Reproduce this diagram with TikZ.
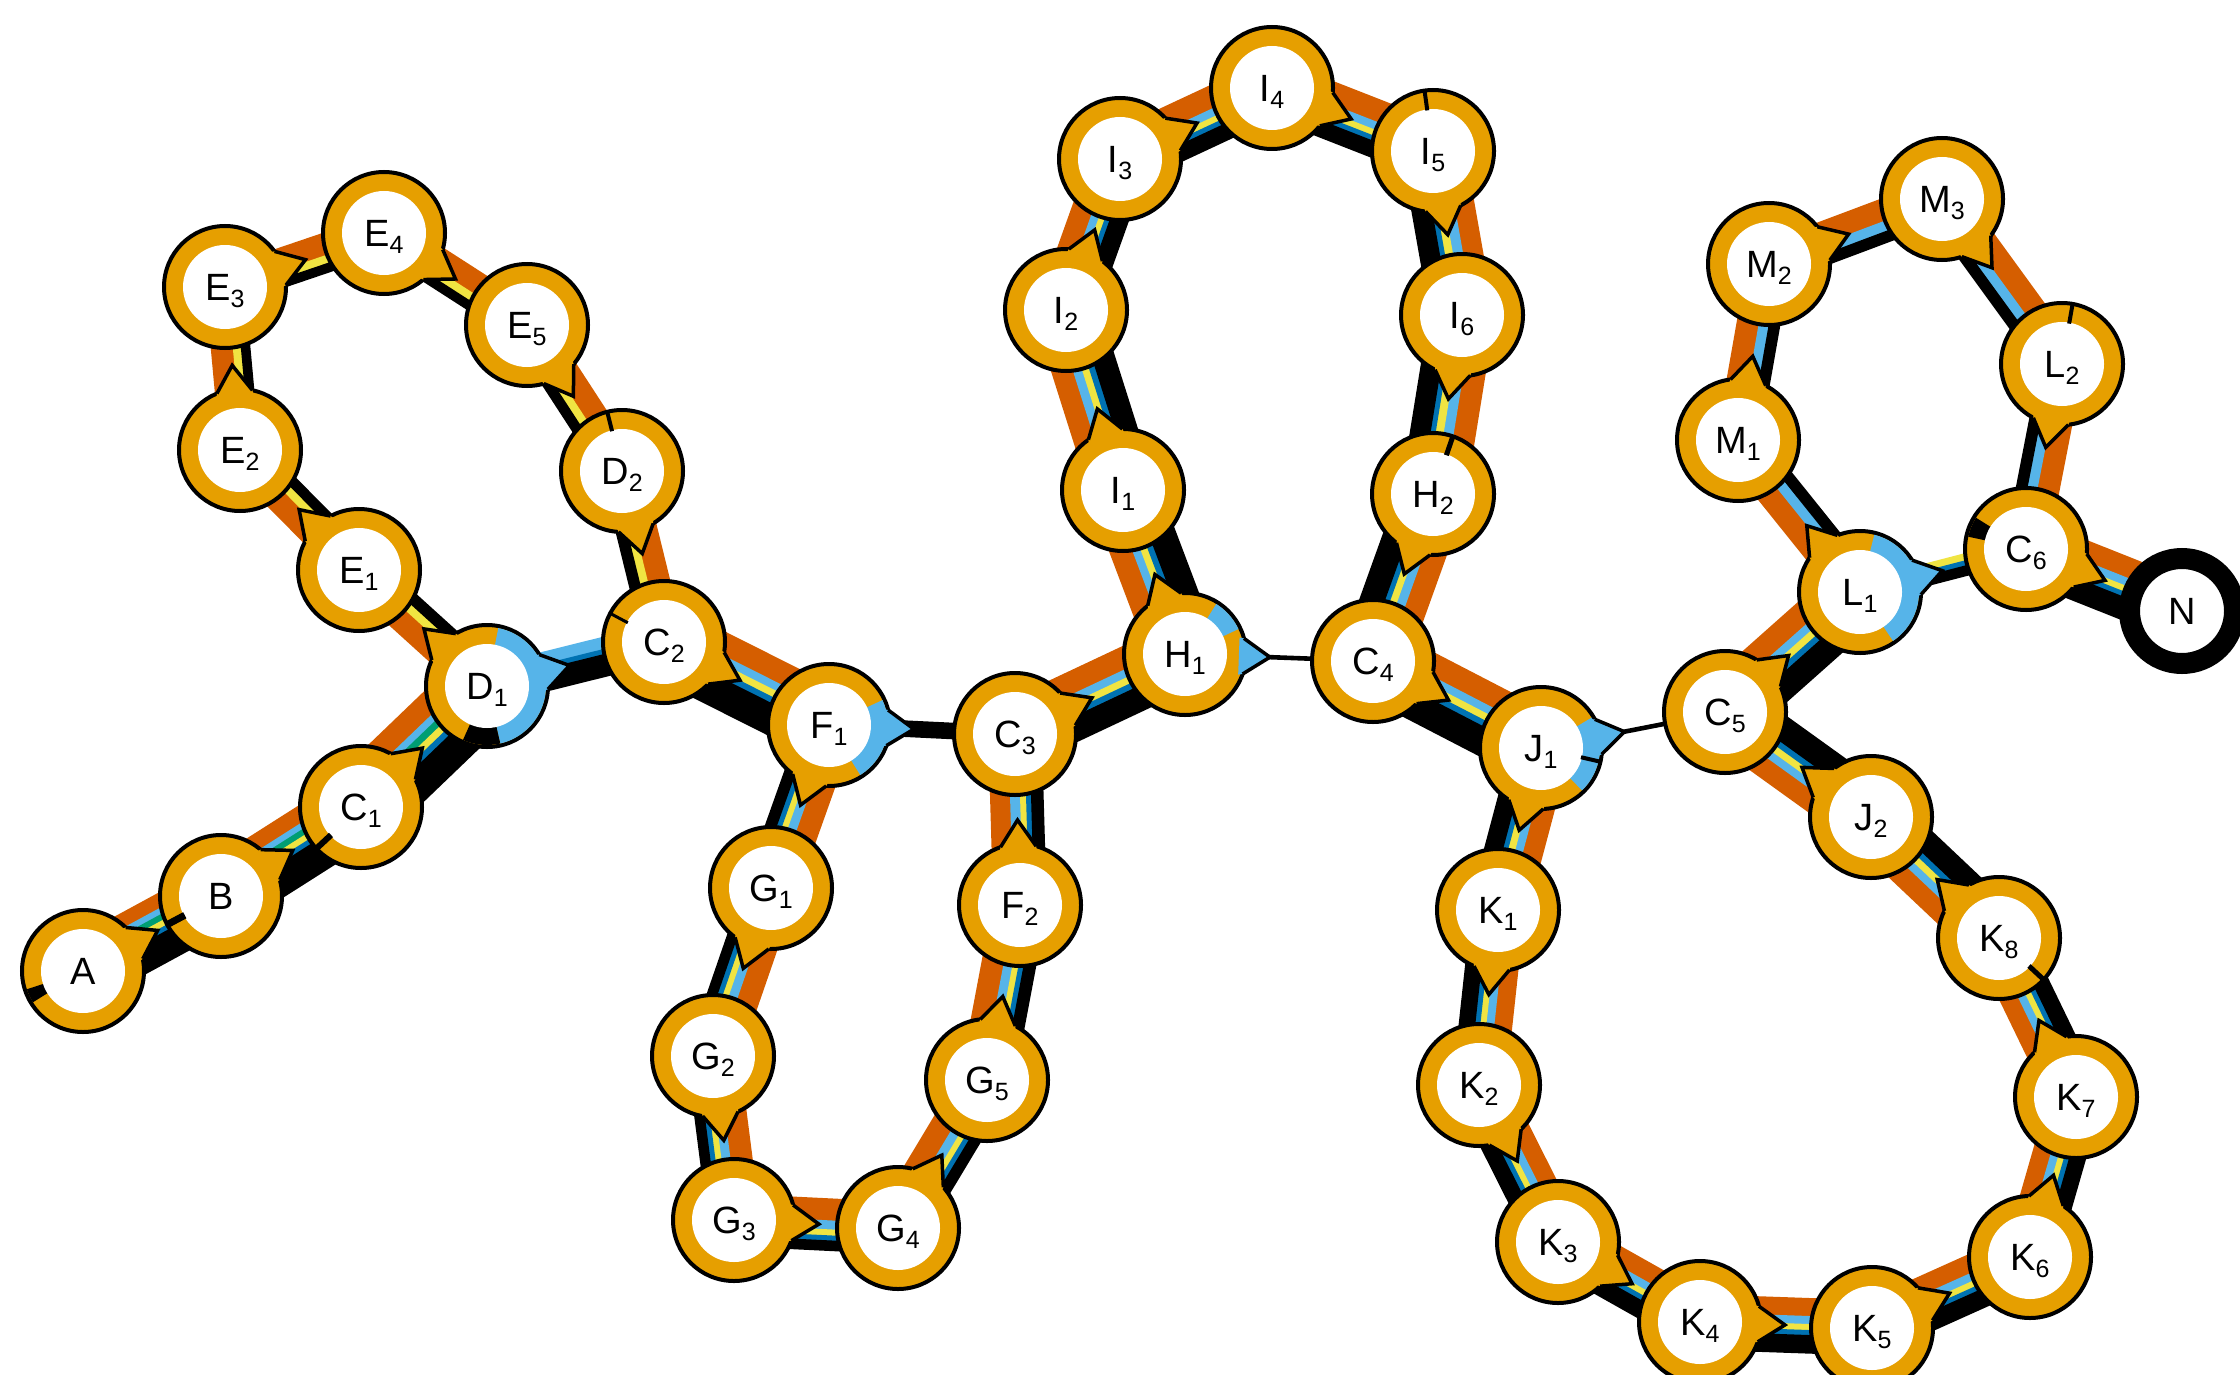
\documentclass[tikz,border=0pt]{standalone}
\usepackage{fontspec}
\setmainfont{Liberation Sans}
\usetikzlibrary{calc}
\definecolor{ringor}{HTML}{E69F00}
\definecolor{verm}{HTML}{D55E00}
\definecolor{skyb}{HTML}{56B4E9}
\definecolor{yel}{HTML}{F0E442}
\definecolor{dblu}{HTML}{0072B2}
\definecolor{grn}{HTML}{009E73}
\newcommand\labfont{\fontsize{38}{42}\selectfont}
\newcommand\lsub[1]{\raisebox{-7pt}{\fontsize{25}{25}\selectfont #1}}
% bundle of parallel lines, listed from the left side of the travel direction a->b
\newcommand\bundle[3]{%
  \xdef\bndtot{0}%
  \foreach \cc/\ww in {#3}{\pgfmathparse{\bndtot+\ww}\xdef\bndtot{\pgfmathresult}}%
  \xdef\bndacc{0}%
  \foreach \cc/\ww in {#3}{%
    \pgfmathparse{\bndtot/2-\bndacc-\ww/2}\let\bndoff\pgfmathresult
    \draw[line width=\ww pt+0.6pt, draw=\cc] ($(#1)!\bndoff pt!90:(#2)$) -- ($(#2)!\bndoff pt!-90:(#1)$);%
    \pgfmathparse{\bndacc+\ww}\xdef\bndacc{\pgfmathresult}%
  }%
}
\newcommand\stnring[1]{\fill[ringor, draw=black, line width=4pt] (#1) circle[radius=61pt];}
\newcommand\stnsect[4][skyb]{\fill[#1] (#2) -- ++(#3:59pt) arc[start angle=#3, end angle=#4, radius=59pt] -- cycle;}
\newcommand\stnhole[1]{\fill[white] (#1) circle[radius=42pt];}
\newcommand\stntick[3][4pt]{\draw[line width=#1, line cap=butt] ($(#2)+(#3:41pt)$) -- ($(#2)+(#3:61pt)$);}
\newcommand\stnlab[2]{\node[font=\labfont, anchor=base, inner sep=0pt] at ($(#1)+(0pt,-13.5pt)$) {#2};}
\newcommand\stnptr[3][ringor]{%
  \path let \p1=($(#3)-(#2)$), \n1={atan2(\y1,\x1)} in \pgfextra{\xdef\ptrang{\n1}};%
  \fill[#1] ($(#2)+(\ptrang+17:61pt)$) -- ($(#2)+(\ptrang:85pt)$) -- ($(#2)+(\ptrang-17:61pt)$) -- ($(#2)+(\ptrang-19:57pt)$) -- ($(#2)+(\ptrang+19:57pt)$) -- cycle;%
  \draw[line width=3.5pt, line join=miter] ($(#2)+(\ptrang+17:61pt)$) -- ($(#2)+(\ptrang:85pt)$) -- ($(#2)+(\ptrang-17:61pt)$);%
}
\newcommand\stn[3]{\stnring{#1}\stnptr{#1}{#2}\stnhole{#1}\stnlab{#1}{#3}}
\begin{document}
\begin{tikzpicture}[x=1pt,y=-1pt]
\useasboundingbox (0,0) rectangle (2240,1375);
\fill[white] (0,0) rectangle (2240,1375);
\clip (0,0) rectangle (2240,1375);
% coordinates (image pixels, y downward)
\coordinate (A) at (83,971);
\coordinate (B) at (221,896);
\coordinate (C1) at (361,807);
\coordinate (D1) at (487,686);
\coordinate (E1) at (359,570);
\coordinate (E2) at (240,450);
\coordinate (E3) at (225,287);
\coordinate (E4) at (384,233);
\coordinate (E5) at (527,325);
\coordinate (D2) at (622,471);
\coordinate (C2) at (664,642);
\coordinate (F1) at (829,725);
\coordinate (C3) at (1015,734);
\coordinate (G1) at (771,888);
\coordinate (G2) at (713,1056);
\coordinate (G3) at (734,1220);
\coordinate (G4) at (898,1228);
\coordinate (G5) at (987,1080);
\coordinate (F2) at (1020,905);
\coordinate (H1) at (1185,654);
\coordinate (I1) at (1123,490);
\coordinate (I2) at (1066,310);
\coordinate (I3) at (1120,159);
\coordinate (I4) at (1272,88);
\coordinate (I5) at (1433,151);
\coordinate (I6) at (1462,315);
\coordinate (H2) at (1433,494);
\coordinate (C4) at (1373,661);
\coordinate (J1) at (1541,748);
\coordinate (C5) at (1725,712);
\coordinate (K1) at (1498,910);
\coordinate (K2) at (1479,1085);
\coordinate (K3) at (1558,1242);
\coordinate (K4) at (1700,1322);
\coordinate (K5) at (1872,1328);
\coordinate (K6) at (2030,1257);
\coordinate (K7) at (2076,1097);
\coordinate (K8) at (1999,938);
\coordinate (J2) at (1871,817);
\coordinate (L1) at (1860,592);
\coordinate (C6) at (2026,549);
\coordinate (N) at (2182,611);
\coordinate (M1) at (1738,440);
\coordinate (M2) at (1769,264);
\coordinate (M3) at (1942,199);
\coordinate (L2) at (2062,364);
% line bundles
\bundle{A}{B}{verm/14,skyb/6,grn/6,yel/6,dblu/5,black/28}
\bundle{B}{C1}{verm/16,skyb/6,grn/6,yel/6,dblu/5,black/30}
\bundle{C1}{D1}{verm/22,skyb/7,grn/7,yel/7,dblu/6,black/30}
\bundle{D1}{E1}{verm/22,yel/8,black/11}
\bundle{E1}{E2}{verm/22,yel/8,black/10}
\bundle{E2}{E3}{verm/22,yel/8,black/9}
\bundle{E3}{E4}{verm/22,yel/8,black/9}
\bundle{E4}{E5}{verm/22,yel/8,black/9}
\bundle{E5}{D2}{verm/22,yel/8,black/10}
\bundle{D2}{C2}{verm/22,yel/8,black/11}
\bundle{D1}{C2}{skyb/12,dblu/5,black/22}
\bundle{C2}{F1}{verm/22,skyb/8,yel/7,dblu/6,black/30}
\bundle{F1}{C3}{black/16}
\bundle{F1}{G1}{verm/22,skyb/9,yel/6,dblu/5,black/11}
\bundle{G1}{G2}{verm/22,skyb/9,yel/6,dblu/5,black/10}
\bundle{G2}{G3}{verm/22,skyb/9,yel/6,dblu/5,black/10}
\bundle{G3}{G4}{verm/22,skyb/9,yel/6,dblu/5,black/10}
\bundle{G4}{G5}{verm/22,skyb/9,yel/6,dblu/5,black/11}
\bundle{G5}{F2}{verm/22,skyb/9,yel/6,dblu/5,black/12}
\bundle{F2}{C3}{verm/20,skyb/10,yel/6,dblu/5,black/12}
\bundle{C3}{H1}{verm/22,skyb/8,yel/7,dblu/6,black/24}
\bundle{H1}{I1}{verm/22,skyb/8,yel/7,dblu/6,black/26}
\bundle{I1}{I2}{verm/21,skyb/9,yel/7,dblu/6,black/22}
\bundle{I2}{I3}{verm/21,skyb/8,yel/6,dblu/5,black/18}
\bundle{I3}{I4}{verm/22,skyb/8,yel/6,dblu/5,black/16}
\bundle{I4}{I5}{verm/22,skyb/8,yel/6,dblu/5,black/16}
\bundle{I5}{I6}{verm/20,skyb/10,yel/8,dblu/5,black/20}
\bundle{I6}{H2}{verm/22,skyb/10,yel/8,dblu/5,black/20}
\bundle{H2}{C4}{verm/22,skyb/9,yel/7,dblu/5,black/24}
\bundle{H1}{C4}{black/4}
\bundle{C4}{J1}{verm/22,skyb/8,yel/7,dblu/6,black/28}
\bundle{J1}{C5}{black/4}
\bundle{J1}{K1}{verm/20,skyb/8,yel/7,dblu/5,black/18}
\bundle{K1}{K2}{verm/18,skyb/8,yel/6,dblu/5,black/16}
\bundle{K2}{K3}{verm/18,skyb/8,yel/6,dblu/5,black/16}
\bundle{K3}{K4}{verm/18,skyb/8,yel/6,dblu/5,black/17}
\bundle{K4}{K5}{verm/18,skyb/8,yel/6,dblu/5,black/18}
\bundle{K5}{K6}{verm/18,skyb/8,yel/6,dblu/5,black/18}
\bundle{K6}{K7}{verm/18,skyb/8,yel/6,dblu/5,black/16}
\bundle{K7}{K8}{verm/18,skyb/8,yel/6,dblu/5,black/16}
\bundle{K8}{J2}{verm/20,skyb/8,yel/7,dblu/6,black/22}
\bundle{J2}{C5}{verm/20,skyb/8,yel/7,dblu/6,black/24}
\bundle{C5}{L1}{verm/22,skyb/8,yel/7,dblu/6,black/24}
\bundle{L1}{M1}{verm/22,skyb/10,black/11}
\bundle{M1}{M2}{verm/22,skyb/10,black/11}
\bundle{M2}{M3}{verm/22,skyb/10,black/11}
\bundle{M3}{L2}{verm/22,skyb/10,black/11}
\bundle{L2}{C6}{verm/22,skyb/10,black/11}
\bundle{L1}{C6}{yel/7,dblu/5,black/10}
\bundle{C6}{N}{verm/20,skyb/8,yel/6,dblu/5,black/22}
% stations
\begin{scope}[x=1pt,y=1pt]
\stnring{A}\stnsect[black]{A}{198}{212}\stnptr{A}{B}\stnhole{A}\stnlab{A}{A}
\stnring{B}\stnptr{B}{C1}\stnhole{B}\stntick[7pt]{B}{208}\stnlab{B}{B}
\stnring{C1}\stnptr{C1}{D1}\stnhole{C1}\stntick[6pt]{C1}{223}\stnlab{C1}{C\lsub{1}}
\stnring{D1}\stnsect{D1}{-77}{79}\stnsect[black]{D1}{246}{283}\stnptr{D1}{E1}\stnptr[skyb]{D1}{C2}\stnhole{D1}\stnlab{D1}{D\lsub{1}}
\stn{E1}{E2}{E\lsub{1}}
\stn{E2}{E3}{E\lsub{2}}
\stn{E3}{E4}{E\lsub{3}}
\stn{E4}{E5}{E\lsub{4}}
\stn{E5}{D2}{E\lsub{5}}
\stnring{D2}\stnptr{D2}{C2}\stnhole{D2}\stntick{D2}{104}\stnlab{D2}{D\lsub{2}}
\stnring{C2}\stnptr{C2}{F1}\stnhole{C2}\stntick[3pt]{C2}{152}\stnlab{C2}{C\lsub{2}}
\stnring{F1}\stnsect{F1}{-58}{25}\stnptr{F1}{G1}\stnptr[skyb]{F1}{C3}\stnhole{F1}\stnlab{F1}{F\lsub{1}}
\stn{G1}{G2}{G\lsub{1}}
\stn{G2}{G3}{G\lsub{2}}
\stn{G3}{G4}{G\lsub{3}}
\stn{G4}{G5}{G\lsub{4}}
\stn{G5}{F2}{G\lsub{5}}
\stn{F2}{C3}{F\lsub{2}}
\stn{C3}{H1}{C\lsub{3}}
\stnring{H1}\stnsect{H1}{25}{58}\stnptr{H1}{I1}\stnptr[skyb]{H1}{C4}\stnhole{H1}\stnlab{H1}{H\lsub{1}}
\stn{I1}{I2}{I\lsub{1}}
\stn{I2}{I3}{I\lsub{2}}
\stn{I3}{I4}{I\lsub{3}}
\stn{I4}{I5}{I\lsub{4}}
\stnring{I5}\stnptr{I5}{I6}\stnhole{I5}\stntick{I5}{98}\stnlab{I5}{I\lsub{5}}
\stn{I6}{H2}{I\lsub{6}}
\stnring{H2}\stnptr{H2}{C4}\stnhole{H2}\stntick[5pt]{H2}{71}\stnlab{H2}{H\lsub{2}}
\stn{C4}{J1}{C\lsub{4}}
\stnring{J1}\stnsect{J1}{-46}{31}\stnptr{J1}{K1}\stnptr[skyb]{J1}{C5}\stnhole{J1}\stntick{J1}{-13}\stnlab{J1}{J\lsub{1}}
\stn{K1}{K2}{K\lsub{1}}
\stn{K2}{K3}{K\lsub{2}}
\stn{K3}{K4}{K\lsub{3}}
\stn{K4}{K5}{K\lsub{4}}
\stn{K5}{K6}{K\lsub{5}}
\stn{K6}{K7}{K\lsub{6}}
\stn{K7}{K8}{K\lsub{7}}
\stnring{K8}\stnptr{K8}{J2}\stnhole{K8}\stntick[5pt]{K8}{-43}\stnlab{K8}{K\lsub{8}}
\stn{J2}{C5}{J\lsub{2}}
\stn{C5}{L1}{C\lsub{5}}
\stnring{L1}\stnsect{L1}{-56}{76}\stnptr{L1}{M1}\stnptr[skyb]{L1}{C6}\stnhole{L1}\stnlab{L1}{L\lsub{1}}
\stn{M1}{M2}{M\lsub{1}}
\stn{M2}{M3}{M\lsub{2}}
\stn{M3}{L2}{M\lsub{3}}
\stnring{L2}\stnptr{L2}{C6}\stnhole{L2}\stntick{L2}{80}\stnlab{L2}{L\lsub{2}}
\stnring{C6}\stnsect[black]{C6}{148}{168}\stnptr{C6}{N}\stnhole{C6}\stnlab{C6}{C\lsub{6}}
\fill[white, draw=black, line width=21pt] (N) circle[radius=52.5pt];
\stnlab{N}{N}
\end{scope}
\end{tikzpicture}
\end{document}
